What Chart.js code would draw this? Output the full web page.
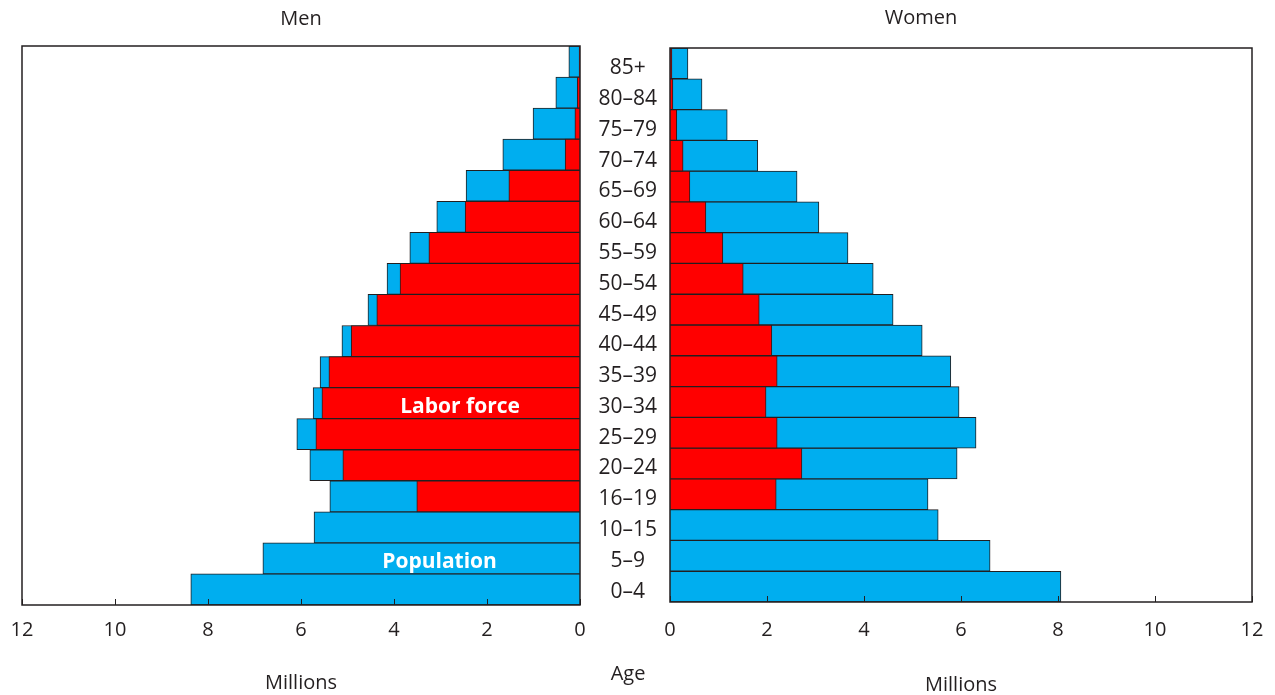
<!DOCTYPE html>
<html>
<head>
<meta charset="utf-8">
<script src="https://cdn.jsdelivr.net/npm/chart.js@4.4.1/dist/chart.umd.min.js"></script>
<style>
  body { margin: 0; background: #fff; font-family: "Open Sans", sans-serif; }
  #wrap { position: relative; width: 1275px; height: 695px; }
  #men { position: absolute; left: 0; top: 0; }
  #women { position: absolute; left: 590px; top: 0; }
  #age { position: absolute; left: 596px; top: 659px; width: 64px; text-align: center;
         font-size: 20px; line-height: 28px; color: #231f20; }
</style>
</head>
<body>
<div id="wrap">
  <canvas id="men" width="600" height="695"></canvas>
  <canvas id="women" width="685" height="695"></canvas>
  <div id="age">Age</div>
</div>
<script>
// Age groups, youngest first (axis is reversed so 85+ sits on top)
const ageGroups = ['0–4', '5–9', '10–15', '16–19', '20–24', '25–29', '30–34', '35–39',
  '40–44', '45–49', '50–54', '55–59', '60–64', '65–69', '70–74', '75–79', '80–84', '85+'];

// Millions
const menPopulation = [8.37, 6.82, 5.72, 5.38, 5.81, 6.09, 5.74, 5.59, 5.12, 4.56,
  4.15, 3.66, 3.08, 2.45, 1.66, 1.01, 0.52, 0.24];
const menLaborForce = [null, null, null, 3.51, 5.10, 5.68, 5.55, 5.40, 4.92, 4.37,
  3.87, 3.25, 2.47, 1.53, 0.32, 0.11, 0.06, 0.02];
const womenPopulation = [8.06, 6.60, 5.53, 5.32, 5.92, 6.31, 5.96, 5.79, 5.20, 4.60,
  4.19, 3.67, 3.07, 2.62, 1.81, 1.18, 0.66, 0.37];
const womenLaborForce = [null, null, null, 2.19, 2.72, 2.21, 1.98, 2.21, 2.10, 1.84,
  1.51, 1.09, 0.74, 0.41, 0.27, 0.14, 0.06, 0.04];

const xTicks = [0, 2, 4, 6, 8, 10, 12];

const BLUE = '#00aeef';
const RED = '#ff0000';
const EDGE = '#231f20';
const TEXT = '#231f20';
const FONT = '"Open Sans", sans-serif';

// Box around the plot area plus short inward tick marks on the bottom edge
const framePlugin = {
    id: 'frame',
    afterDatasetsDraw(chart) {
        const { ctx, chartArea: a } = chart;
        const x = chart.scales.x;
        ctx.save();
        ctx.strokeStyle = EDGE;
        ctx.lineWidth = 1.5;
        ctx.strokeRect(a.left, a.top, a.right - a.left, a.bottom - a.top);
        ctx.lineWidth = 1;
        xTicks.forEach(v => {
            const px = Math.round(x.getPixelForValue(v)) + 0.5;
            ctx.beginPath();
            ctx.moveTo(px, a.bottom);
            ctx.lineTo(px, a.bottom - 6);
            ctx.stroke();
        });
        ctx.restore();
    }
};

// White bold labels written over the bars
const notesPlugin = {
    id: 'notes',
    afterDatasetsDraw(chart, args, opts) {
        const { ctx } = chart;
        (opts.items || []).forEach(n => {
            const px = chart.scales.x.getPixelForValue(n.value);
            const py = chart.scales.y.getPixelForValue(ageGroups.indexOf(n.row)) + (opts.dy || 0);
            ctx.save();
            ctx.fillStyle = '#fff';
            ctx.font = 'bold 21px ' + FONT;
            ctx.textAlign = 'center';
            ctx.textBaseline = 'middle';
            ctx.fillText(n.text, px, py);
            ctx.restore();
        });
    }
};

function barSet(label, data, color) {
    return {
        label: label,
        data: data,
        backgroundColor: color,
        borderColor: EDGE,
        borderWidth: 1,
        grouped: false,
        barPercentage: 1,
        categoryPercentage: 1
    };
}

function xScale(reverse, pad, height, titleBottom) {
    return {
        reverse: reverse,
        min: 0,
        max: 12,
        afterBuildTicks: s => { s.ticks = xTicks.map(v => ({ value: v })); },
        ticks: { color: TEXT, font: { family: FONT, size: 20 }, padding: pad, maxRotation: 0 },
        grid: { display: false, drawTicks: false },
        border: { display: false },
        title: {
            display: true,
            text: 'Millions',
            color: TEXT,
            font: { family: FONT, size: 20 },
            padding: { top: 0, bottom: titleBottom }
        },
        afterFit: s => {
            s.height = height;
            // let the layout padding alone decide the plot edges
            s.paddingLeft = 0;
            s.paddingRight = 0;
        }
    };
}

// Men (left)
new Chart(document.getElementById('men'), {
    type: 'bar',
    data: {
        labels: ageGroups,
        datasets: [
            barSet('Labor force', menLaborForce, RED),
            barSet('Population', menPopulation, BLUE)
        ]
    },
    options: {
        indexAxis: 'y',
        responsive: false,
        animation: false,
        layout: { padding: { left: 22, right: 20, top: 0, bottom: 0 } },
        plugins: {
            legend: { display: false },
            tooltip: { enabled: false },
            title: {
                display: true,
                text: 'Men',
                color: TEXT,
                font: { family: FONT, size: 20, weight: 'normal' },
                padding: { top: 7, bottom: 15 }
            },
            notes: {
                dy: 4,
                items: [
                    { text: 'Labor force', value: 2.58, row: '30–34' },
                    { text: 'Population', value: 3.02, row: '5–9' }
                ]
            }
        },
        scales: {
            x: xScale(true, 13, 90, 0),
            y: { display: false, reverse: true }
        }
    },
    plugins: [framePlugin, notesPlugin]
});

// Women (right); its y axis carries the age labels in the middle
new Chart(document.getElementById('women'), {
    type: 'bar',
    data: {
        labels: ageGroups,
        datasets: [
            barSet('Labor force', womenLaborForce, RED),
            barSet('Population', womenPopulation, BLUE)
        ]
    },
    options: {
        indexAxis: 'y',
        responsive: false,
        animation: false,
        layout: { padding: { left: 0, right: 23, top: 0, bottom: 0 } },
        plugins: {
            legend: { display: false },
            tooltip: { enabled: false },
            title: {
                display: true,
                text: 'Women',
                color: TEXT,
                font: { family: FONT, size: 20, weight: 'normal' },
                padding: { top: 6, bottom: 18 }
            }
        },
        scales: {
            x: xScale(false, 16, 93, -2),
            y: {
                reverse: true,
                ticks: { color: TEXT, font: { family: FONT, size: 21 }, crossAlign: 'center', padding: 13, labelOffset: 5 },
                grid: { display: false, drawTicks: false },
                border: { display: false },
                afterFit: s => { s.width = 80; }
            }
        }
    },
    plugins: [framePlugin]
});
</script>
</body>
</html>
